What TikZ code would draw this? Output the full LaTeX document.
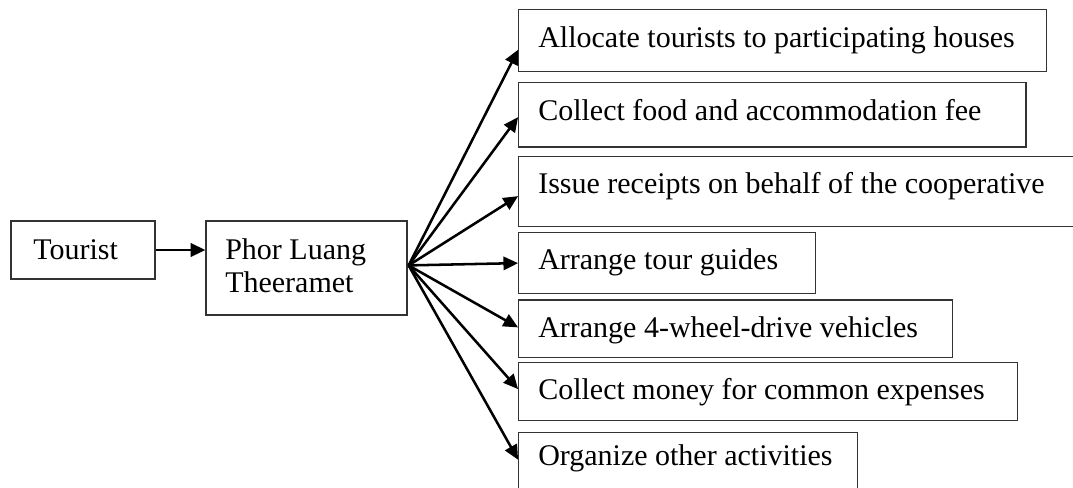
\documentclass[tikz,border=0pt]{standalone}
\usepackage{fontspec}
\setmainfont{Liberation Serif}
\usetikzlibrary{arrows.meta,fit,calc}
\begin{document}
\begin{tikzpicture}[x=0.75pt,y=-0.75pt,
  box/.style={draw=black!80, line width=0.9pt, inner sep=0pt, rectangle},
  lbl/.style={inner sep=0pt, anchor=base west, font=\fontsize{22.5}{24.75}\selectfont, align=left},
  arr/.style={draw=black, line width=1.9pt, -{Triangle[length=11pt,width=10pt]}}]
\useasboundingbox (0,0) rectangle (1073,487);
\clip (0,0) rectangle (1073,487);

% left-hand boxes
\node[box, fit={(11,221) (155,279)}] (tourist) {};
\node[lbl] (tourist-t) at (33,259) {Tourist};
\node[box, fit={(206,221) (407,315)}] (phor) {};
% base anchor of a two-line node sits on its last line
\node[lbl] (phor-t) at (225,292) {Phor Luang\\Theeramet};

% task boxes
\node[box, fit={(518.7,9.3) (1046.7,71.7)}] (alloc) {};
\node[lbl] (alloc-t) at (538,47) {Allocate tourists to participating houses};
\node[box, fit={(518.7,82.7) (1026,147)}] (food) {};
\node[lbl] (food-t) at (538,120) {Collect food and accommodation fee};
\node[box, fit={(518.7,156.7) (1085,226.7)}] (receipt) {};
\node[lbl] (receipt-t) at (538,193) {Issue receipts on behalf of the cooperative};
\node[box, fit={(518.7,232.7) (815.7,293.3)}] (guide) {};
\node[lbl] (guide-t) at (538,269.3) {Arrange tour guides};
\node[box, fit={(518.7,300) (952.3,357.7)}] (fwd) {};
\node[lbl] (fwd-t) at (538,337) {Arrange 4-wheel-drive vehicles};
\node[box, fit={(518.7,362.7) (1017.3,420.7)}] (money) {};
\node[lbl] (money-t) at (538,399) {Collect money for common expenses};
\node[box, fit={(518.7,432.3) (857.7,500)}] (other) {};
\node[lbl] (other-t) at (538,465) {Organize other activities};

% connectors
\draw[arr] (tourist.east) -- (tourist.east -| phor.west);
\coordinate (hub) at ($(phor.north east)+(1,45)$);
\draw[arr] (hub) -- ($(alloc.north west)+(0,41)$);
\draw[arr] (hub) -- ($(food.north west)+(0,35)$);
\draw[arr] (hub) -- ($(receipt.north west)+(0,40)$);
\draw[arr] (hub) -- ($(guide.north west)+(0,31)$);
\draw[arr] (hub) -- ($(fwd.north west)+(0,28)$);
\draw[arr] (hub) -- ($(money.north west)+(0,27)$);
\draw[arr] (hub) -- ($(other.north west)+(0,28)$);
\end{tikzpicture}
\end{document}
